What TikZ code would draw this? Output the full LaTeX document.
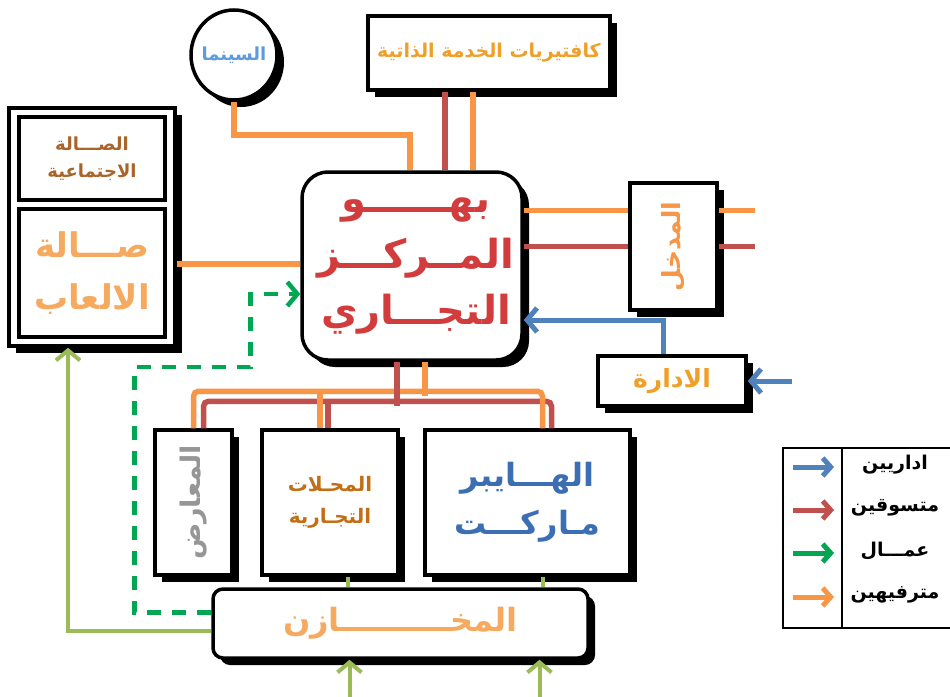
\documentclass[tikz,border=0pt]{standalone}
\usepackage{fontspec}
\newfontfamily\arabicfont[Script=Arabic]{DejaVu Sans}
\TeXXeTstate=1
\usetikzlibrary{arrows.meta,shadows,shapes.geometric}
\newcommand\rl[1]{\beginR#1\endR}
\newcommand\fs[2]{\fontsize{#1}{#2}\selectfont}

\definecolor{corange}{RGB}{247,150,70}
\definecolor{cred}{RGB}{192,80,77}
\definecolor{cblue}{RGB}{79,129,189}
\definecolor{clgreen}{RGB}{155,187,89}
\definecolor{cdgreen}{RGB}{0,166,81}
\definecolor{tcinema}{RGB}{95,155,220}
\definecolor{tcafe}{RGB}{240,160,40}
\definecolor{tbrown}{RGB}{170,100,40}
\definecolor{tgames}{RGB}{245,170,95}
\definecolor{tcenter}{RGB}{210,60,60}
\definecolor{tgray}{RGB}{150,150,150}
\definecolor{tshops}{RGB}{195,110,20}
\definecolor{thyper}{RGB}{60,110,180}

\tikzset{
  box/.style={draw=black, line width=3.5pt, fill=white, inner sep=0pt,
    drop shadow={shadow xshift=7pt, shadow yshift=-7pt, fill=black, opacity=1}},
  plainbox/.style={draw=black, line width=3.5pt, fill=white, inner sep=0pt},
  artxt/.style={font=\arabicfont\bfseries, align=center},
  oline/.style={draw=corange, line width=5.5pt},
  rline/.style={draw=cred, line width=5.5pt},
  bline/.style={draw=cblue, line width=5pt},
  gline/.style={draw=clgreen, line width=4pt},
  gdash/.style={draw=cdgreen, line width=4.5pt, dash pattern=on 14pt off 11pt},
  barb/.style={-{Straight Barb[length=10pt,width=24pt]}},
  legarrow/.style={line width=5pt, -{Straight Barb[length=8pt,width=18pt]}},
}

\begin{document}
\begin{tikzpicture}[x=1pt,y=-1pt]
\useasboundingbox (0,0) rectangle (950,696);
\fill[white] (0,0) rectangle (950,696);

% --- main blocks ---
\node[box, ellipse, minimum width=86pt, minimum height=90pt] (cinema) at (234,55) {};
\node[artxt, text=tcinema, font=\arabicfont\bfseries\fs{18}{20}] at (cinema) {\rl{السينما}};

\node[box, minimum width=242pt, minimum height=74pt] (cafe) at (489,53) {};
\node[artxt, text=tcafe, font=\arabicfont\bfseries\fs{19}{22}] at (cafe) {\rl{كافتيريات الخدمة الذاتية}};

\node[box, minimum width=166pt, minimum height=238pt] (leftbox) at (92,227) {};
\node[plainbox, minimum width=146pt, minimum height=83pt] (social) at (92,158.5) {};
\node[artxt, text=tbrown, font=\arabicfont\bfseries\fs{18}{27}] at (social) {\rl{الصـــالة}\\\rl{الاجتماعية}};
\node[plainbox, minimum width=146pt, minimum height=128pt] (games) at (92,273) {};
\node[artxt, text=tgames, font=\arabicfont\bfseries\fs{34}{52}] at (games) {\rl{صـــالة}\\\rl{الالعاب}};

\node[box, rounded corners=26pt, minimum width=220pt, minimum height=188pt] (center) at (412,266) {};
\node[artxt, text=tcenter, font=\arabicfont\bfseries\fs{40}{56}] at ([xshift=4pt]center) {\rl{بهــــــو}\\\rl{المــركـــز}\\\rl{التجـــاري}};

\node[box, minimum width=87pt, minimum height=127pt] (entrance) at (673.5,246.5) {};
\node[artxt, text=corange, rotate=90, font=\arabicfont\bfseries\fs{25}{28}] at (entrance) {\rl{المدخل}};

\node[box, minimum width=148pt, minimum height=50pt] (admin) at (672,381) {};
\node[artxt, text=tcafe, font=\arabicfont\bfseries\fs{25}{28}] at (admin) {\rl{الادارة}};

\node[box, minimum width=77pt, minimum height=145pt] (exh) at (193.5,502.5) {};
\node[artxt, text=tgray, rotate=90, font=\arabicfont\bfseries\fs{27}{30}] at (exh) {\rl{المعارض}};

\node[box, minimum width=136pt, minimum height=145pt] (shops) at (330,502.5) {};
\node[artxt, text=tshops, font=\arabicfont\bfseries\fs{20}{32}] at (shops) {\rl{المحـلات}\\\rl{التجـارية}};

\node[box, minimum width=205pt, minimum height=145pt] (hyper) at (527.5,502.5) {};
\node[artxt, text=thyper, font=\arabicfont\bfseries\fs{32}{48}] at (hyper) {\rl{الهـــايبر}\\\rl{مـاركـــت}};

\node[box, rounded corners=10pt, minimum width=375pt, minimum height=69pt] (storage) at (400.5,623.5) {};
\node[artxt, text=tgames, font=\arabicfont\bfseries\fs{32}{36}] at (storage) {\rl{المخــــــــــازن}};

% --- visitors (orange) and shoppers (red) ---
\draw[oline] (cinema.south) -- ++(0,33) -| ([xshift=-2pt]center.north);
\draw[rline] ([xshift=-44pt]cafe.south) -- ([xshift=-44pt]cafe.south |- center.north);
\draw[oline] ([xshift=-16pt]cafe.south) -- ([xshift=-16pt]cafe.south |- center.north);
\draw[oline] ([yshift=-37pt]leftbox.east) -- ([yshift=-37pt]leftbox.east -| center.west);

\draw[oline] ([yshift=36pt]entrance.west -| center.east) -- ([yshift=36pt]entrance.west);
\draw[rline] (entrance.west -| center.east) -- (entrance.west);
\draw[oline] ([yshift=36pt]entrance.east) -- ++(36,0);
\draw[rline] (entrance.east) -- ++(36,0);

% distribution bus below the hall
\draw[rline, rounded corners=5pt] ([xshift=10pt]exh.north) -- ++(0,-27) -| ([xshift=24pt]hyper.north);
\draw[rline] ([xshift=-2pt]shops.north) -- ++(0,-27);
\draw[oline, rounded corners=5pt] (exh.north) -- ++(0,-37) -| ([xshift=15pt]hyper.north);
\draw[oline] ([xshift=-10pt]shops.north) -- ++(0,-37);
\draw[oline] ([xshift=13pt]center.south) -- ++(0,34);
\draw[rline] ([xshift=-15pt]center.south) -- ++(0,44);

% --- administration (blue) ---
\draw[bline, barb] ([xshift=-9pt]admin.north) |- ([yshift=-54pt]center.east);
\draw[bline, barb] ([xshift=44pt]admin.east) -- (admin.east);

% --- workers (green) ---
\draw[gline] ([xshift=18pt]shops.south) -- ([xshift=18pt]shops.south |- storage.north);
\draw[gline] ([xshift=15pt]hyper.south) -- ([xshift=15pt]hyper.south |- storage.north);
\draw[gline, barb] ([xshift=-51pt,yshift=-40pt]storage.south) -- ([xshift=-51pt]storage.south);
\draw[gline, barb] ([xshift=139pt,yshift=-40pt]storage.south) -- ([xshift=139pt]storage.south);
\draw[gline, barb] ([yshift=-7pt]storage.west) -| ([xshift=-24pt]leftbox.south);
\draw[gdash, barb] ([yshift=11pt]storage.west) -- ++(-77,0) -- ++(0,-245.5) -- ++(116,0)
  |- ([yshift=-28pt]center.west);

% --- legend ---
\draw[line width=2pt] (783,448) rectangle (960,628);
\draw[line width=2pt] (842,448) -- (842,628);
\draw[legarrow, cblue] (793,467) -- (834,467);
\draw[legarrow, cred] (793,510) -- (834,510);
\draw[legarrow, cdgreen] (793,553) -- (834,553);
\draw[legarrow, corange] (793,597) -- (834,597);
\node[artxt, font=\arabicfont\bfseries\fs{19}{22}] (l1) at (895,465) {\rl{اداريين}};
\node[artxt, font=\arabicfont\bfseries\fs{19}{22}] (l2) at (895,508) {\rl{متسوقين}};
\node[artxt, font=\arabicfont\bfseries\fs{19}{22}] (l3) at (895,551) {\rl{عمـــال}};
\node[artxt, font=\arabicfont\bfseries\fs{19}{22}] (l4) at (895,595) {\rl{مترفيهين}};
\end{tikzpicture}
\end{document}
